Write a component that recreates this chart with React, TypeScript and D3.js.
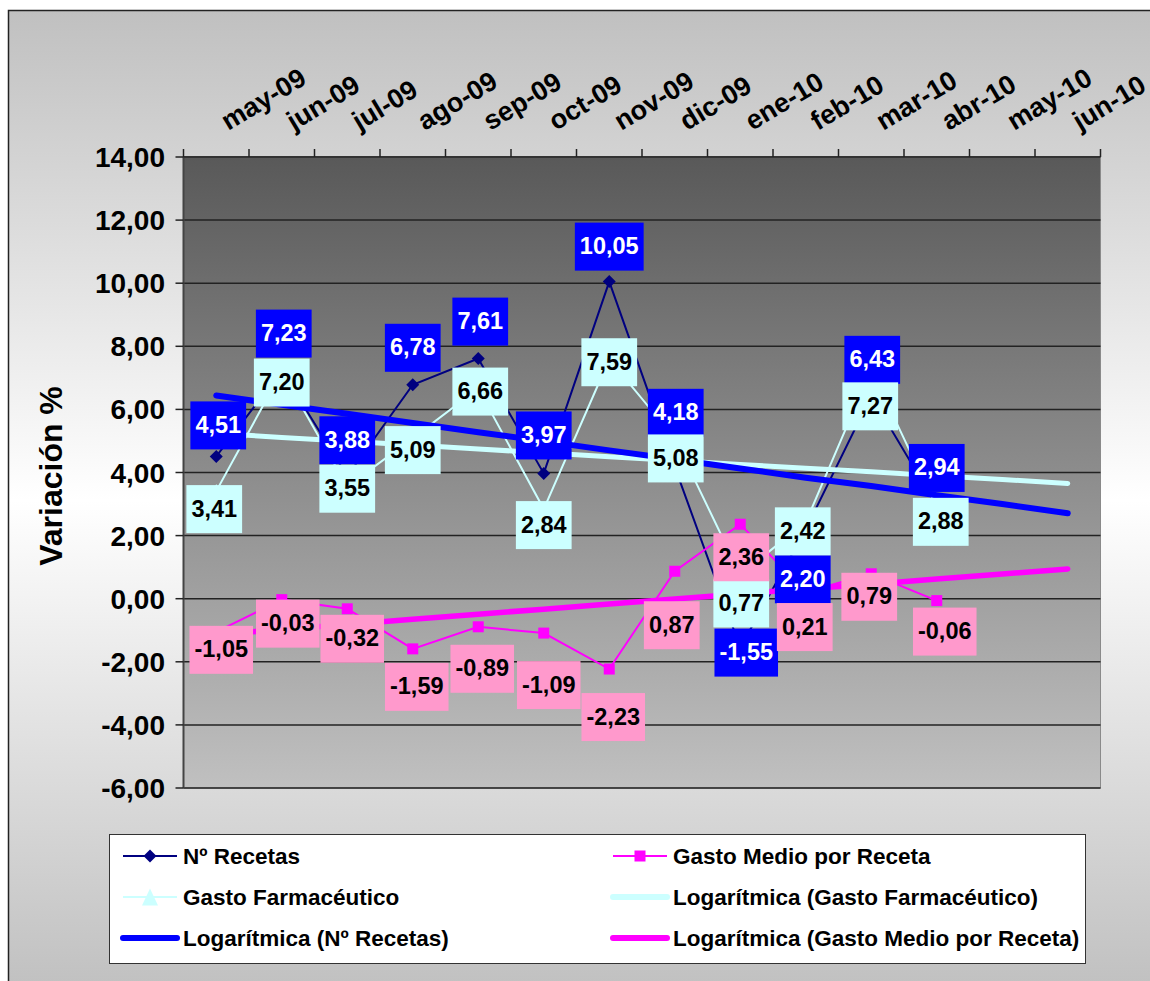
import React from 'react';
import * as d3 from 'd3';

// ---------- data ----------
const categories = ['may-09', 'jun-09', 'jul-09', 'ago-09', 'sep-09', 'oct-09', 'nov-09', 'dic-09', 'ene-10', 'feb-10', 'mar-10', 'abr-10', 'may-10', 'jun-10'];
const recetas = [4.51, 7.23, 3.88, 6.78, 7.61, 3.97, 10.05, 4.18, -1.55, 2.2, 6.43, 2.94];
const gastoMedio = [-1.05, -0.03, -0.32, -1.59, -0.89, -1.09, -2.23, 0.87, 2.36, 0.21, 0.79, -0.06];
const gastoFarm = [3.41, 7.2, 3.55, 5.09, 6.66, 2.84, 7.59, 5.08, 0.77, 2.42, 7.27, 2.88];
const yTicks = [-6, -4, -2, 0, 2, 4, 6, 8, 10, 12, 14];
const firstMonth = [2009, 4]; // may-2009

// ---------- layout of data labels (offset of label box centre from its point, px) ----------
const recetasLabelOffsets = [[2, -31], [2, -37], [0, -36], [0, -37], [2, -37], [0, -38], [0, -35], [1, -54], [6, 5], [-3, 50], [1, -36], [0, -38]];
const farmLabelOffsets = [[-2, 18], [0, 11], [0, 2], [0, 12], [2, 3], [0, 16], [0, 3], [1, 20], [1, 29], [-3, 9], [-1, 37], [4, 14]];
const medioLabelOffsets = [[5, 18], [6, 24], [5, 30], [4, 38], [4, 42], [5, 52], [4, 48], [-3, 54], [1, 33], [-1, 35], [-2, 23], [8, 31]];

const FONT = "'Liberation Sans', Arial, Helvetica, sans-serif";
const fmt = (v: number) => v.toFixed(2).replace('.', ',');

// Excel date serial of the first day of each month
const serials = categories.map((_, i) => {
  const d = d3.utcMonth.offset(new Date(Date.UTC(firstMonth[0], firstMonth[1], 1)), i);
  return (d.getTime() - Date.UTC(1899, 11, 30)) / 86400000;
});

// logarithmic least-squares trend (Excel "Logarítmica") evaluated on all categories
function logTrend(vals: number[]) {
  const xs = vals.map((_, i) => Math.log(serials[i]));
  const mx = d3.mean(xs)!;
  const my = d3.mean(vals)!;
  let sxy = 0, sxx = 0;
  xs.forEach((xv, i) => { sxy += (xv - mx) * (vals[i] - my); sxx += (xv - mx) * (xv - mx); });
  const a = sxy / sxx;
  const b = my - a * mx;
  return serials.map(s => a * Math.log(s) + b);
}

const charW: Record<string, number> = { '0': 0.556, '1': 0.556, '2': 0.556, '3': 0.556, '4': 0.556, '5': 0.556, '6': 0.556, '7': 0.556, '8': 0.556, '9': 0.556, ',': 0.278, '-': 0.333 };
const LABEL_FS = 23.5;
const textW = (s: string, fs: number) => s.split('').reduce((acc, c) => acc + (charW[c] ?? 0.556), 0) * fs;

export default function App() {
  const W = 1150, H = 981;
  const left = 183.5, right = 1100.5, top = 157, bottom = 788;
  const x = d3.scaleBand<string>().domain(categories).range([left, right]);
  const cx = (i: number) => (x(categories[i]) as number) + x.bandwidth() / 2;
  const y = d3.scaleLinear().domain([-6, 14]).range([bottom, top]);
  const line = d3.line<number>().x((_, i) => cx(i)).y(d => y(d));

  const trendNR = logTrend(recetas);
  const trendGF = logTrend(gastoFarm);
  const trendGM = logTrend(gastoMedio);

  const diamond = (px: number, py: number, r: number) => `M${px},${py - r}L${px + r},${py}L${px},${py + r}L${px - r},${py}Z`;
  const triangle = (px: number, py: number, w: number, h: number) => `M${px},${py - h / 2}L${px + w / 2},${py + h / 2}L${px - w / 2},${py + h / 2}Z`;

  const labels = (vals: number[], offs: number[][], fill: string, color: string, key: string) =>
    vals.map((v, i) => {
      const s = fmt(v);
      const w = textW(s, LABEL_FS) + 10;
      const h = 48;
      const bx = cx(i) + offs[i][0];
      const by = y(v) + offs[i][1];
      return (
        <g key={key + i}>
          <rect x={bx - w / 2} y={by - h / 2} width={w} height={h} fill={fill} />
          <text x={bx} y={by + 7.5} textAnchor="middle" fontSize={LABEL_FS} fontWeight="bold" fill={color} fontFamily={FONT}>{s}</text>
        </g>
      );
    });

  const legendRows = [856, 897, 938];
  const col1 = { x1: 123, x2: 177, cx: 150, tx: 183 };
  const col2 = { x1: 613, x2: 667, cx: 640, tx: 673 };

  return (
    <svg width={W} height={H} style={{ position: 'fixed', left: 0, top: 0, display: 'block' }} fontFamily={FONT}>
      <defs>
        <linearGradient id="bg" x1="0" y1="0" x2="0" y2="1">
          <stop offset="0" stopColor="#c0c0c0" />
          <stop offset="0.5" stopColor="#ffffff" />
          <stop offset="1" stopColor="#c0c0c0" />
        </linearGradient>
        <linearGradient id="plotbg" x1="0" y1="0" x2="0" y2="1">
          <stop offset="0" stopColor="#595959" />
          <stop offset="1" stopColor="#c0c0c0" />
        </linearGradient>
      </defs>
      <rect x={0} y={0} width={W} height={H} fill="#ffffff" />
      <rect x={8.5} y={10.5} width={1200} height={980} fill="url(#bg)" stroke="#222" strokeWidth={1.5} />

      {/* plot area */}
      <rect x={left} y={top} width={right - left} height={bottom - top} fill="url(#plotbg)" stroke="#8a8a8a" strokeWidth={1} />
      {yTicks.filter(t => t < 14).map(t => (
        <line key={'g' + t} x1={left} x2={right} y1={y(t)} y2={y(t)} stroke="#222" strokeWidth={1.5} />
      ))}
      {/* y axis */}
      <line x1={left} x2={left} y1={top} y2={bottom} stroke="#444" strokeWidth={2} />
      {yTicks.map(t => (
        <g key={'yt' + t}>
          <line x1={left - 8} x2={left} y1={y(t)} y2={y(t)} stroke="#222" strokeWidth={1.5} />
          <text x={165} y={y(t) + 10} textAnchor="end" fontSize={28} fontWeight="bold" fill="#000">{fmt(t)}</text>
        </g>
      ))}
      {/* top category axis */}
      <line x1={left} x2={right} y1={top} y2={top} stroke="#333" strokeWidth={2} />
      {d3.range(categories.length + 1).map(i => {
        const tx = left + i * x.bandwidth();
        return <line key={'xt' + i} x1={tx} x2={tx} y1={top - 8} y2={top} stroke="#222" strokeWidth={1.5} />;
      })}
      {categories.map((c, i) => (
        <text key={'xl' + c} transform={`translate(${cx(i) + 12},131) rotate(-31)`} fontSize={27} fontWeight="bold" fill="#000">{c}</text>
      ))}
      <text transform="translate(62,476) rotate(-90)" textAnchor="middle" fontSize={32} fontWeight="bold" fill="#000">Variación %</text>

      {/* series lines */}
      <path d={line(recetas)!} fill="none" stroke="#000080" strokeWidth={2} />
      {recetas.map((v, i) => <path key={'dm' + i} d={diamond(cx(i), y(v), 6.5)} fill="#000080" />)}
      <path d={line(gastoMedio)!} fill="none" stroke="#ff00ff" strokeWidth={2} />
      {gastoMedio.map((v, i) => <rect key={'sq' + i} x={cx(i) - 5.5} y={y(v) - 5.5} width={11} height={11} fill="#ff00ff" />)}
      <path d={line(gastoFarm)!} fill="none" stroke="#ccffff" strokeWidth={2} />
      {gastoFarm.map((v, i) => <path key={'tr' + i} d={triangle(cx(i), y(v), 14, 14)} fill="#ccffff" />)}

      {/* trend lines */}
      <path d={line(trendGF)!} fill="none" stroke="#ccffff" strokeWidth={5} strokeLinecap="round" />
      <path d={line(trendNR)!} fill="none" stroke="#0000ff" strokeWidth={6} strokeLinecap="round" />
      <path d={line(trendGM)!} fill="none" stroke="#ff00ff" strokeWidth={5.5} strokeLinecap="round" />

      {/* data labels */}
      {labels(recetas, recetasLabelOffsets, '#0000ff', '#ffffff', 'lr')}
      {labels(gastoFarm, farmLabelOffsets, '#ccffff', '#000000', 'lf')}
      {labels(gastoMedio, medioLabelOffsets, '#ff99cc', '#000000', 'lm')}

      {/* legend */}
      <rect x={109.5} y={834.5} width={976} height={129} fill="#ffffff" stroke="#333" strokeWidth={1} />
      <line x1={col1.x1} x2={col1.x2} y1={legendRows[0]} y2={legendRows[0]} stroke="#000080" strokeWidth={2} />
      <path d={diamond(col1.cx, legendRows[0], 6.5)} fill="#000080" />
      <text x={col1.tx} y={legendRows[0] + 8} fontSize={22.5} fontWeight="bold">Nº Recetas</text>

      <line x1={col2.x1} x2={col2.x2} y1={legendRows[0]} y2={legendRows[0]} stroke="#ff00ff" strokeWidth={2} />
      <rect x={col2.cx - 5.5} y={legendRows[0] - 5.5} width={11} height={11} fill="#ff00ff" />
      <text x={col2.tx} y={legendRows[0] + 8} fontSize={22.5} fontWeight="bold">Gasto Medio por Receta</text>

      <line x1={col1.x1} x2={col1.x2} y1={legendRows[1]} y2={legendRows[1]} stroke="#ccffff" strokeWidth={2} />
      <path d={triangle(col1.cx, legendRows[1], 16, 17)} fill="#ccffff" />
      <text x={col1.tx} y={legendRows[1] + 8} fontSize={22.5} fontWeight="bold">Gasto Farmacéutico</text>

      <line x1={col2.x1} x2={col2.x2} y1={legendRows[1]} y2={legendRows[1]} stroke="#ccffff" strokeWidth={6} strokeLinecap="round" />
      <text x={col2.tx} y={legendRows[1] + 8} fontSize={22.5} fontWeight="bold">Logarítmica (Gasto Farmacéutico)</text>

      <line x1={col1.x1} x2={col1.x2} y1={legendRows[2]} y2={legendRows[2]} stroke="#0000ff" strokeWidth={6} strokeLinecap="round" />
      <text x={col1.tx} y={legendRows[2] + 8} fontSize={22.5} fontWeight="bold">Logarítmica (Nº Recetas)</text>

      <line x1={col2.x1} x2={col2.x2} y1={legendRows[2]} y2={legendRows[2]} stroke="#ff00ff" strokeWidth={6} strokeLinecap="round" />
      <text x={col2.tx} y={legendRows[2] + 8} fontSize={22.5} fontWeight="bold">Logarítmica (Gasto Medio por Receta)</text>
    </svg>
  );
}
